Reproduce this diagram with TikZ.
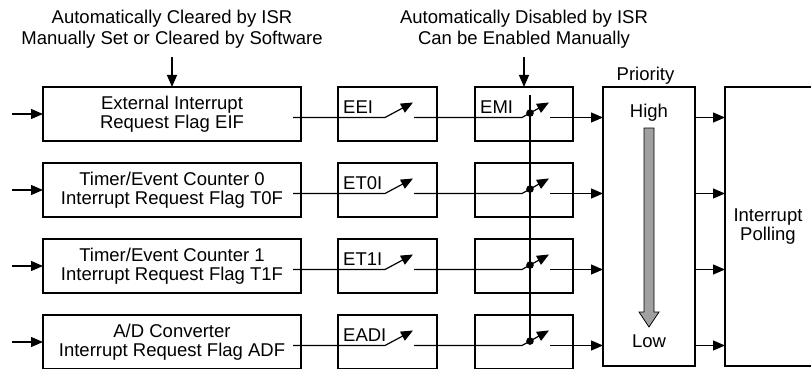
\documentclass[tikz,border=0pt]{standalone}
\usepackage{fontspec}
\setmainfont{Liberation Sans}
\usetikzlibrary{arrows.meta}
\begin{document}
\begin{tikzpicture}[x=1pt,y=-1pt,
  wire/.style={line width=1.2pt, line join=miter},
  tip/.style={-{Triangle[length=12pt,width=10pt]}},
  txt/.style={font=\fontsize{18.5}{21}\selectfont, inner sep=0pt, align=center},
  boxtxt/.style={font=\fontsize{18.5}{19.5}\selectfont, align=center},
  flagbox/.style={boxtxt, draw, line width=1.2pt, minimum width=258pt, minimum height=54pt, inner sep=0pt, outer sep=0pt},
  enbox/.style={draw, line width=1.2pt, minimum width=99pt, minimum height=54pt, inner sep=0pt, outer sep=0pt},
  gmbox/.style={draw, line width=1.2pt, minimum width=98pt, minimum height=54pt, inner sep=0pt, outer sep=0pt},
  lbl/.style={font=\fontsize{18.5}{21}\selectfont, inner sep=0pt, anchor=base west},
  grayarrow/.style={fill={rgb,255:red,160;green,160;blue,160}, draw=black, line width=0.8pt}
]
\useasboundingbox (0,0) rectangle (811,369);

% top notes
\node[txt] (note1) at (172,29.7) {Automatically Cleared by ISR\\Manually Set or Cleared by Software};
\node[txt] (note2) at (524,29.7) {Automatically Disabled by ISR\\Can be Enabled Manually};

% flag boxes
\node[flagbox] (flag1) at (172,114) {External Interrupt\\Request Flag EIF};
\node[flagbox] (flag2) at (172,190) {Timer/Event Counter 0\\Interrupt Request Flag T0F};
\node[flagbox] (flag3) at (172,266) {Timer/Event Counter 1\\Interrupt Request Flag T1F};
\node[flagbox] (flag4) at (172,342) {A/D Converter\\Interrupt Request Flag ADF};

% priority and polling
\node[draw, line width=1.2pt, minimum width=92pt, minimum height=279pt, inner sep=0pt, outer sep=0pt] (prio) at (649,226.5) {};
\node[txt, anchor=base] (priol) at (645.5,81) {Priority};
\node[txt, anchor=base] (high) at (649,117) {High};
\node[txt, anchor=base] (low) at (649,347) {Low};
\node[boxtxt, minimum width=86pt, minimum height=279pt, inner sep=0pt, outer sep=0pt] (poll) at (768,226.5) {Interrupt\\Polling};
\draw[wire] (poll.north east) -- (poll.north west) -- (poll.south west) -- (poll.south east);

\draw[grayarrow] (644,128) -- (654,128) -- (654,312) -- (659,312) -- (649,327) -- (639,312) -- (644,312) -- cycle;

\foreach \i/\m/\lab in {1/114/EEI,2/190/ET0I,3/266/ET1I,4/342/EADI} {
  \pgfmathsetmacro\ly{\m+3.5}
  \pgfmathsetmacro\ty{\m+3.5-15}
  \pgfmathsetmacro\dy{\m+3.5-4.44}
  \pgfmathsetmacro\by{\m-1}
  \node[enbox] (en\i) at (387.5,\m) {};
  \node[gmbox] (gm\i) at (524,\m) {};
  \node[lbl] (enl\i) at (343,\by) {\lab};
  \coordinate (s1\i) at (385,\ly);
  \coordinate (t1\i) at (413,\ty);
  \coordinate (r1\i) at (414,\ly);
  \coordinate (s2\i) at (522,\ly);
  \coordinate (t2\i) at (549,\ty);
  \coordinate (r2\i) at (550,\ly);
  \coordinate (d\i) at (530,\dy);
  \draw[wire,tip] ([xshift=-31pt]flag\i.west) -- (flag\i.west);
  \draw[wire,tip] ([xshift=-8pt,yshift=-3.5pt]flag\i.east) -- (s1\i) -- (t1\i);
  \draw[wire,tip] (r1\i) -- (s2\i) -- (t2\i);
  \draw[wire,tip] (r2\i) -- (prio.west |- r2\i);
  \draw[wire,tip] (prio.east |- r2\i) -- (poll.west |- r2\i);
}
\node[lbl] (gml) at (480,113) {EMI};

% global enable line and dots
\draw[wire] ([xshift=6pt,yshift=-8pt]gm1.north) -- (d4);
\foreach \i in {1,2,3,4} { \fill (d\i) circle (3.8pt); }

% note arrows
\draw[wire,tip] ([yshift=30pt]flag1.north) -- (flag1.north);
\draw[wire,tip] ([yshift=30pt]gm1.north) -- (gm1.north);
\end{tikzpicture}
\end{document}
